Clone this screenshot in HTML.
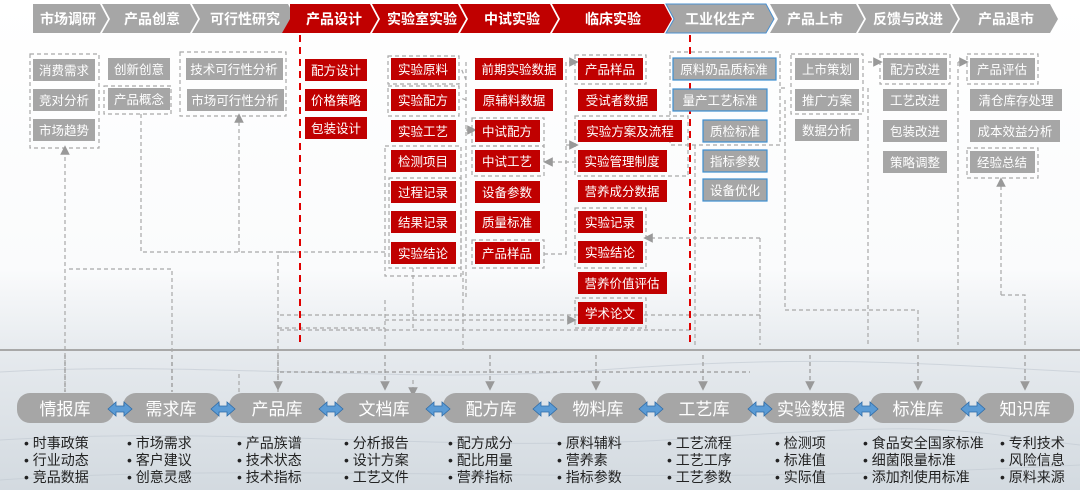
<!DOCTYPE html>
<html><head><meta charset="utf-8"><style>
html,body{margin:0;padding:0;background:#fff}
svg{display:block}
text{font-family:"Liberation Sans","Noto Sans CJK SC",sans-serif}
</style></head><body>
<svg width="1080" height="490" viewBox="0 0 1080 490" xmlns="http://www.w3.org/2000/svg">
<defs>
<linearGradient id="bg" x1="0" y1="0" x2="0" y2="1">
<stop offset="0" stop-color="#ffffff"/><stop offset="0.55" stop-color="#fafbfc"/><stop offset="0.72" stop-color="#e6eaee"/><stop offset="1" stop-color="#d3dae0"/>
</linearGradient>
<marker id="ar" markerWidth="8" markerHeight="8" refX="4" refY="4" orient="auto"><path d="M0,0 L8,4 L0,8 z" fill="#999"/></marker>
</defs>
<rect width="1080" height="490" fill="url(#bg)"/>
<g stroke="#c4ccd4" stroke-width="1" fill="none" opacity="0.7">
<path d="M0,372 C200,360 400,385 600,370 S900,362 1080,372"/>
<path d="M0,440 C250,425 450,455 700,438 S950,430 1080,445"/>
<path d="M0,480 C300,460 600,490 1080,465"/>
</g>

<!-- header chevrons -->
<g font-size="14" font-weight="bold" fill="#fff" text-anchor="middle">
<polygon points="33,4 100,4 108,19 100,33 33,33" fill="#a6a6a6"/>
<polygon points="102,4 190,4 198,19 190,33 102,33 110,19" fill="#a6a6a6"/>
<polygon points="192,4 288,4 296,19 288,33 192,33 200,19" fill="#a6a6a6"/>
<polygon points="290,4 370,4 378,19 370,33 282,33 290,19" fill="#c00000"/>
<polygon points="372,4 458,4 466,19 458,33 372,33 380,19" fill="#c00000"/>
<polygon points="460,4 550,4 558,19 550,33 460,33 468,19" fill="#c00000"/>
<polygon points="552,4 664,4 672,19 664,33 552,33 560,19" fill="#c00000"/>
<polygon points="666,4 766,4 774,19 766,33 666,33 674,19" fill="#a6a6a6" stroke="#4a90d0" stroke-width="1"/>
<polygon points="770,4 856,4 864,19 856,33 770,33 778,19" fill="#a6a6a6"/>
<polygon points="858,4 950,4 958,19 950,33 858,33 866,19" fill="#a6a6a6"/>
<polygon points="952,4 1050,4 1058,19 1050,33 952,33 960,19" fill="#a6a6a6"/>
<text x="68" y="24">市场调研</text>
<text x="152" y="24">产品创意</text>
<text x="245" y="24">可行性研究</text>
<text x="334" y="24">产品设计</text>
<text x="422" y="24">实验室实验</text>
<text x="512" y="24">中试实验</text>
<text x="613" y="24">临床实验</text>
<text x="720" y="24">工业化生产</text>
<text x="815" y="24">产品上市</text>
<text x="908" y="24">反馈与改进</text>
<text x="1006" y="24">产品退市</text>
</g>

<!-- dashed group boxes & connectors -->
<g stroke="#a8a8a8" stroke-width="1.2" stroke-dasharray="4,3" fill="none">
<rect x="30" y="54" width="69" height="94"/>
<rect x="104" y="86" width="67" height="28"/>
<rect x="180" y="52" width="106" height="64"/>
<rect x="388" y="56" width="71" height="28"/>
<rect x="388" y="86" width="71" height="30"/>
<rect x="385" y="146" width="76" height="130"/>
<rect x="389" y="178" width="72" height="90"/>
<rect x="472" y="118" width="72" height="28"/>
<rect x="472" y="146" width="72" height="30"/>
<rect x="472" y="240" width="72" height="28"/>
<rect x="575" y="55" width="71" height="29"/>
<rect x="575" y="116" width="113" height="60"/>
<rect x="575" y="208" width="71" height="60"/>
<rect x="575" y="298" width="71" height="30"/>
<rect x="670" y="52" width="110" height="93"/>
<rect x="791" y="54" width="72" height="60"/>
<rect x="880" y="54" width="70" height="30"/>
<rect x="967" y="54" width="71" height="30"/>
<rect x="967" y="148" width="71" height="30"/>
<path d="M65,392 V150" marker-end="url(#ar)"/>
<path d="M69,269 H172 V392"/>
<path d="M141,114 V252 H385"/>
<path d="M239,392 V372"/>
<path d="M239,252 V118" marker-end="url(#ar)"/>
<path d="M278,392 V252 M278,328 H385"/>
<path d="M278,252 H300"/>
<path d="M385,300 V350 H463 V268"/>
<path d="M413,268 V330"/>
<path d="M413,380 V392" marker-end="url(#ar)"/>
<path d="M385,320 H572" marker-end="url(#ar)"/>
<path d="M466,62 V300 M466,80 L461,68 M466,100 L461,98"/>
<path d="M466,130 H472" marker-end="url(#ar)"/>
<path d="M544,254 H566 V62 H574" marker-end="url(#ar)"/>
<path d="M566,145 H574" marker-end="url(#ar)"/>
<path d="M660,162 H548" marker-end="url(#ar)"/>
<path d="M760,238 H648" marker-end="url(#ar)"/>
<path d="M760,238 V345 M760,315 H280"/>
<path d="M695,145 V345 M690,330 H280"/>
<path d="M785,88 H780 M785,100 V310 H918 V345"/>
<path d="M868,88 V345 M868,62 H878" marker-end="url(#ar)"/>
<path d="M958,62 H964" marker-end="url(#ar)"/>
<path d="M958,62 V345"/>
<path d="M1001,295 V182" marker-end="url(#ar)"/>
<path d="M1001,295 H1025 V345"/>
<path d="M430,350 H465 M540,350 H600"/>
</g>
<g stroke="#999" stroke-width="1.2" stroke-dasharray="4,3" fill="none">
<path d="M278,355 V386" marker-end="url(#ar)"/>
<path d="M385,355 V386" marker-end="url(#ar)"/>
<path d="M490,355 V386" marker-end="url(#ar)"/>
<path d="M596,355 V386" marker-end="url(#ar)"/>
<path d="M703,355 V386" marker-end="url(#ar)"/>
<path d="M810,355 V386" marker-end="url(#ar)"/>
<path d="M918,355 V386" marker-end="url(#ar)"/>
<path d="M1025,355 V386" marker-end="url(#ar)"/>
<path d="M65,355 V392 M172,355 V392 M280,372 H750"/>
</g>

<!-- red dashed separators -->
<g stroke="#e00000" stroke-width="2" stroke-dasharray="7,5">
<path d="M300,35 V345"/><path d="M690,35 V345"/>
</g>
<!-- gray baseline -->
<rect x="0" y="349" width="1080" height="2" fill="#a8a8a8"/>

<!-- gray boxes -->
<g fill="#a6a6a6">
<rect x="33" y="59" width="62" height="22"/><rect x="33" y="89" width="62" height="22"/><rect x="33" y="119" width="62" height="22"/>
<rect x="108" y="58" width="62" height="22"/><rect x="108" y="88" width="62" height="22"/>
<rect x="186" y="58" width="97" height="22"/><rect x="187" y="89" width="97" height="22"/>
<rect x="795" y="58" width="64" height="22"/><rect x="795" y="89" width="64" height="22"/><rect x="795" y="119" width="64" height="22"/>
<rect x="883" y="58" width="64" height="22"/><rect x="883" y="89" width="64" height="22"/><rect x="883" y="120" width="64" height="22"/><rect x="883" y="151" width="64" height="22"/>
<rect x="970" y="58" width="65" height="22"/><rect x="970" y="89" width="92" height="22"/><rect x="970" y="120" width="90" height="22"/><rect x="970" y="151" width="65" height="22"/>
</g>
<g fill="#a6a6a6" stroke="#3d8fd1" stroke-width="1.2">
<rect x="673" y="58" width="103" height="22"/><rect x="673" y="89" width="94" height="22"/>
<rect x="703" y="120" width="64" height="22"/><rect x="703" y="150" width="64" height="22"/><rect x="703" y="179" width="64" height="22"/>
</g>
<!-- red boxes -->
<g fill="#c00000">
<rect x="305" y="59" width="62" height="22"/><rect x="305" y="89" width="62" height="22"/><rect x="305" y="117" width="62" height="22"/>
<rect x="391" y="58" width="65" height="22"/><rect x="391" y="89" width="65" height="22"/><rect x="391" y="120" width="65" height="22"/><rect x="391" y="150" width="65" height="22"/><rect x="391" y="181" width="65" height="22"/><rect x="391" y="211" width="65" height="22"/><rect x="391" y="242" width="65" height="22"/>
<rect x="475" y="58" width="88" height="22"/><rect x="475" y="89" width="78" height="22"/><rect x="475" y="120" width="65" height="22"/><rect x="475" y="150" width="65" height="22"/><rect x="475" y="181" width="65" height="22"/><rect x="475" y="211" width="65" height="22"/><rect x="475" y="242" width="65" height="22"/>
<rect x="578" y="58" width="65" height="22"/><rect x="578" y="89" width="79" height="22"/><rect x="578" y="120" width="104" height="22"/><rect x="578" y="150" width="89" height="22"/><rect x="578" y="180" width="89" height="22"/><rect x="578" y="211" width="65" height="22"/><rect x="578" y="241" width="65" height="22"/><rect x="578" y="272" width="89" height="22"/><rect x="578" y="302" width="65" height="22"/>
</g>
<g font-size="12.5" fill="#fff" text-anchor="middle">
<text x="64" y="75">消费需求</text><text x="64" y="105">竞对分析</text><text x="64" y="135">市场趋势</text>
<text x="139" y="74">创新创意</text><text x="139" y="104">产品概念</text>
<text x="234" y="74">技术可行性分析</text><text x="235" y="105">市场可行性分析</text>
<text x="336" y="75">配方设计</text><text x="336" y="105">价格策略</text><text x="336" y="133">包装设计</text>
<text x="423" y="74">实验原料</text><text x="423" y="105">实验配方</text><text x="423" y="136">实验工艺</text><text x="423" y="166">检测项目</text><text x="423" y="197">过程记录</text><text x="423" y="227">结果记录</text><text x="423" y="258">实验结论</text>
<text x="519" y="74">前期实验数据</text><text x="514" y="105">原辅料数据</text><text x="507" y="136">中试配方</text><text x="507" y="166">中试工艺</text><text x="507" y="197">设备参数</text><text x="507" y="227">质量标准</text><text x="507" y="258">产品样品</text>
<text x="610" y="74">产品样品</text><text x="617" y="105">受试者数据</text><text x="630" y="136">实验方案及流程</text><text x="622" y="166">实验管理制度</text><text x="622" y="196">营养成分数据</text><text x="610" y="227">实验记录</text><text x="610" y="257">实验结论</text><text x="622" y="288">营养价值评估</text><text x="610" y="318">学术论文</text>
<text x="724" y="74">原料奶品质标准</text><text x="720" y="105">量产工艺标准</text><text x="735" y="136">质检标准</text><text x="735" y="166">指标参数</text><text x="735" y="195">设备优化</text>
<text x="827" y="74">上市策划</text><text x="827" y="105">推广方案</text><text x="827" y="135">数据分析</text>
<text x="915" y="74">配方改进</text><text x="915" y="105">工艺改进</text><text x="915" y="136">包装改进</text><text x="915" y="167">策略调整</text>
<text x="1002" y="74">产品评估</text><text x="1016" y="105">清仓库存处理</text><text x="1015" y="136">成本效益分析</text><text x="1002" y="167">经验总结</text>
</g>

<!-- database pills -->
<g fill="#a6a6a6">
<rect x="17" y="393" width="97" height="30" rx="13"/>
<rect x="123" y="393" width="97" height="30" rx="13"/>
<rect x="229" y="393" width="97" height="30" rx="13"/>
<rect x="336" y="393" width="97" height="30" rx="13"/>
<rect x="443" y="393" width="97" height="30" rx="13"/>
<rect x="550" y="393" width="97" height="30" rx="13"/>
<rect x="656" y="393" width="97" height="30" rx="13"/>
<rect x="763" y="393" width="97" height="30" rx="13"/>
<rect x="870" y="393" width="97" height="30" rx="13"/>
<rect x="977" y="393" width="97" height="30" rx="13"/>
</g>
<g fill="#5b9bd5" stroke="#2e6ca8" stroke-width="0.8">
<polygon points="108,409 116,402 116,406 124,406 124,402 132,409 124,416 124,412 116,412 116,416"/>
<polygon points="211,409 219,402 219,406 227,406 227,402 235,409 227,416 227,412 219,412 219,416"/>
<polygon points="319,409 327,402 327,406 335,406 335,402 343,409 335,416 335,412 327,412 327,416"/>
<polygon points="426,409 434,402 434,406 442,406 442,402 450,409 442,416 442,412 434,412 434,416"/>
<polygon points="533,409 541,402 541,406 549,406 549,402 557,409 549,416 549,412 541,412 541,416"/>
<polygon points="639,409 647,402 647,406 655,406 655,402 663,409 655,416 655,412 647,412 647,416"/>
<polygon points="748,409 756,402 756,406 764,406 764,402 772,409 764,416 764,412 756,412 756,416"/>
<polygon points="854,409 862,402 862,406 870,406 870,402 878,409 870,416 870,412 862,412 862,416"/>
<polygon points="961,409 969,402 969,406 977,406 977,402 985,409 977,416 977,412 969,412 969,416"/>
</g>
<g font-size="17" fill="#fff" text-anchor="middle">
<text x="65" y="415">情报库</text><text x="171" y="415">需求库</text><text x="277" y="415">产品库</text><text x="384" y="415">文档库</text><text x="491" y="415">配方库</text><text x="598" y="415">物料库</text><text x="704" y="415">工艺库</text><text x="811" y="415">实验数据</text><text x="918" y="415">标准库</text><text x="1025" y="415">知识库</text>
</g>

<!-- bullet lists -->
<g font-size="14" fill="#222">
<text x="24" y="448">•  时事政策</text><text x="24" y="465">•  行业动态</text><text x="24" y="482">•  竞品数据</text>
<text x="127" y="448">•  市场需求</text><text x="127" y="465">•  客户建议</text><text x="127" y="482">•  创意灵感</text>
<text x="237" y="448">•  产品族谱</text><text x="237" y="465">•  技术状态</text><text x="237" y="482">•  技术指标</text>
<text x="344" y="448">•  分析报告</text><text x="344" y="465">•  设计方案</text><text x="344" y="482">•  工艺文件</text>
<text x="448" y="448">•  配方成分</text><text x="448" y="465">•  配比用量</text><text x="448" y="482">•  营养指标</text>
<text x="557" y="448">•  原料辅料</text><text x="557" y="465">•  营养素</text><text x="557" y="482">•  指标参数</text>
<text x="667" y="448">•  工艺流程</text><text x="667" y="465">•  工艺工序</text><text x="667" y="482">•  工艺参数</text>
<text x="775" y="448">•  检测项</text><text x="775" y="465">•  标准值</text><text x="775" y="482">•  实际值</text>
<text x="863" y="448">•  食品安全国家标准</text><text x="863" y="465">•  细菌限量标准</text><text x="863" y="482">•  添加剂使用标准</text>
<text x="1000" y="448">•  专利技术</text><text x="1000" y="465">•  风险信息</text><text x="1000" y="482">•  原料来源</text>
</g>
</svg>
</body></html>
